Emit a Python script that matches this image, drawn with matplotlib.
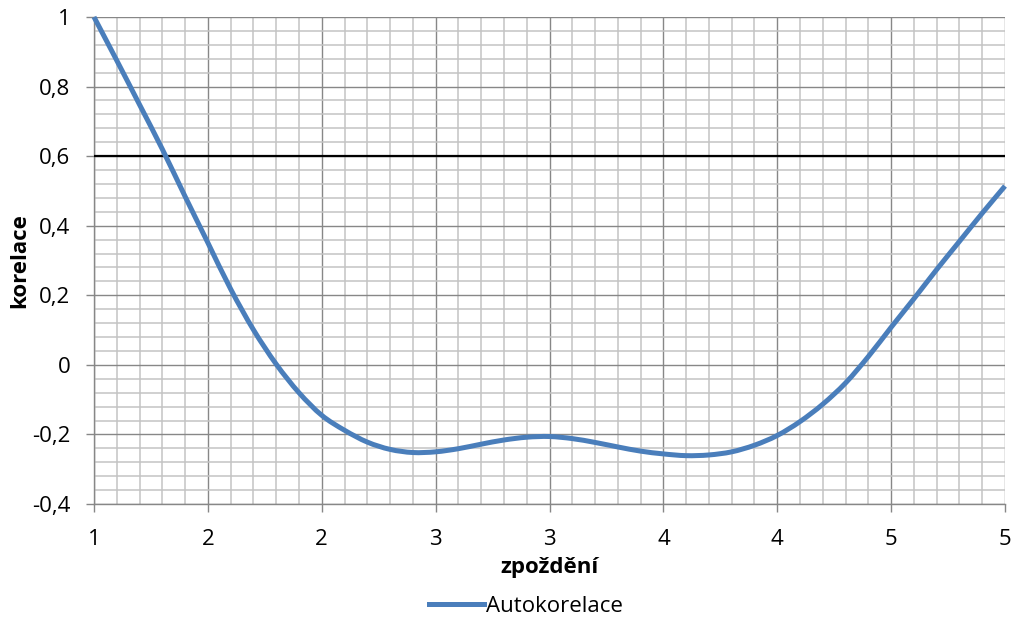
import matplotlib
matplotlib.use("Agg")
import matplotlib.pyplot as plt
from matplotlib.ticker import FixedLocator, MultipleLocator
from matplotlib.lines import Line2D
from matplotlib.path import Path
from matplotlib.patches import PathPatch

plt.rcParams['font.family'] = ['Open Sans', 'DejaVu Sans']

# zpoždění a hodnoty autokorelace
lag = [1.0, 1.1, 1.2, 1.3, 1.4, 1.5, 1.6, 1.7, 1.8, 1.9,
       2.0, 2.1, 2.2, 2.3, 2.4, 2.5, 2.6, 2.7, 2.8, 2.9,
       3.0, 3.1, 3.2, 3.3, 3.4, 3.5, 3.6, 3.7, 3.8, 3.9,
       4.0, 4.1, 4.2, 4.3, 4.4, 4.5, 4.6, 4.7, 4.8, 4.9,
       5.0]
autocorr = [1.000, 0.875, 0.748, 0.620, 0.484, 0.351, 0.218, 0.101, 0.002, -0.080,
            -0.145, -0.188, -0.222, -0.243, -0.252, -0.250, -0.241, -0.228, -0.216, -0.208,
            -0.206, -0.212, -0.223, -0.236, -0.248, -0.256, -0.261, -0.259, -0.250, -0.231,
            -0.203, -0.163, -0.113, -0.052, 0.024, 0.108, 0.190, 0.274, 0.355, 0.436,
            0.514]
threshold = 0.6

x_ticks = [1.0, 1.5, 2.0, 2.5, 3.0, 3.5, 4.0, 4.5, 5.0]
x_tick_labels = ['1', '2', '2', '3', '3', '4', '4', '5', '5']
y_ticks = [-0.4, -0.2, 0.0, 0.2, 0.4, 0.6, 0.8, 1.0]
y_tick_labels = ['-0,4', '-0,2', '0', '0,2', '0,4', '0,6', '0,8', '1']


def smooth_path(xs, ys):
    # vyhlazená čára přes body (Bezierovy úseky jako u "smoothed line")
    n = len(xs)
    verts = [(xs[0], ys[0])]
    codes = [Path.MOVETO]
    for i in range(n - 1):
        i0 = max(i - 1, 0)
        i3 = min(i + 2, n - 1)
        c1 = (xs[i] + (xs[i + 1] - xs[i0]) / 6, ys[i] + (ys[i + 1] - ys[i0]) / 6)
        c2 = (xs[i + 1] - (xs[i3] - xs[i]) / 6, ys[i + 1] - (ys[i3] - ys[i]) / 6)
        verts += [c1, c2, (xs[i + 1], ys[i + 1])]
        codes += [Path.CURVE4] * 3
    return Path(verts, codes)


W, H = 1016, 621
fig = plt.figure(figsize=(W / 100, H / 100), dpi=100)
ax = fig.add_axes([94 / W, 1 - 504 / H, (1005 - 94) / W, (504 - 17) / H])

ax.set_xlim(1, 5)
ax.set_ylim(-0.4, 1.0)

ax.xaxis.set_major_locator(FixedLocator(x_ticks))
ax.xaxis.set_minor_locator(MultipleLocator(0.1))
ax.yaxis.set_major_locator(FixedLocator(y_ticks))
ax.yaxis.set_minor_locator(MultipleLocator(0.04))
ax.set_xticklabels(x_tick_labels)
ax.set_yticklabels(y_tick_labels)

ax.grid(which='minor', color='#c3c3c3', linewidth=1.1)
ax.grid(which='major', color='#878787', linewidth=1.0)
ax.set_axisbelow(True)

ax.tick_params(which='major', length=6, width=1, color='#878787',
               labelsize=16, pad=12)
ax.tick_params(which='minor', length=0)
ax.tick_params(axis='y', pad=11)

for side in ['top', 'right']:
    ax.spines[side].set_visible(False)
for side in ['left', 'bottom']:
    ax.spines[side].set_color('#878787')
    ax.spines[side].set_linewidth(1.0)

ax.axhline(threshold, color='black', linewidth=1.6, zorder=3)

curve = PathPatch(smooth_path(lag, autocorr), fill=False, edgecolor='#4a7ebb',
                  linewidth=3.6, capstyle='butt', joinstyle='round',
                  zorder=4, clip_on=False)
ax.add_patch(curve)

ax.set_xlabel('zpoždění', fontsize=16, fontweight='bold')
ax.xaxis.label.set_verticalalignment('center')
ax.xaxis.set_label_coords(0.5, -(568 - 504) / 487)
ax.set_ylabel('korelace', fontsize=16, fontweight='bold')
ax.yaxis.label.set_verticalalignment('center')
ax.yaxis.set_label_coords(-(94 - 20) / 911, 0.5)

handle = Line2D([], [], color='#4a7ebb', linewidth=3.6)
fig.legend([handle], ['Autokorelace'], loc='center',
           bbox_to_anchor=(526 / W, 1 - 606 / H), frameon=False,
           fontsize=16, handlelength=2.5, handletextpad=0.1, borderpad=0)

fig.savefig('out.png', dpi=100)
